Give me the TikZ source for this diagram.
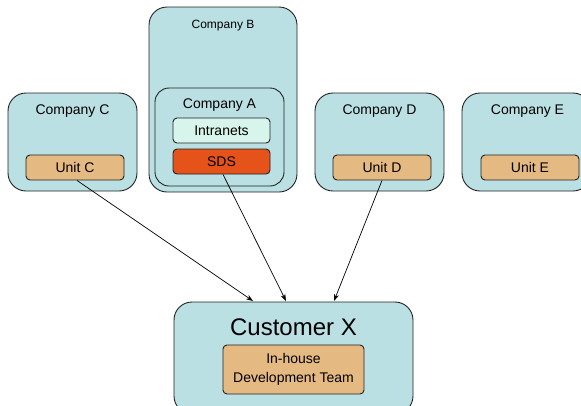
\documentclass[tikz,border=0pt]{standalone}
\usepackage{fontspec}
\setmainfont{Liberation Sans}
\usetikzlibrary{arrows.meta,calc}
\definecolor{orgfill}{HTML}{BBE0E3}
\definecolor{unitfill}{HTML}{E5B982}
\definecolor{intrafill}{HTML}{D8F5EC}
\definecolor{sdsfill}{HTML}{E5521A}
\definecolor{edge}{HTML}{222222}
\tikzset{
  org/.style={draw=edge, line width=0.9pt, fill=orgfill, rounded corners=18pt, inner sep=0pt},
  unitbox/.style={draw=edge, line width=0.9pt, fill=unitfill, rounded corners=4pt,
    minimum width=98pt, minimum height=25pt, inner sep=0pt, font=\fontsize{14}{16}\selectfont},
  orglabel/.style={font=\fontsize{14}{16}\selectfont, inner sep=0pt},
  link/.style={draw=black, line width=0.7pt, -{Stealth[length=7pt,width=5pt]}}
}
\begin{document}
\begin{tikzpicture}[x=1pt,y=-1pt]
\useasboundingbox (0,0) rectangle (581,405);

% Company C
\node[org, minimum width=129pt, minimum height=98pt] (cc) at (72.5,142) {};
\node[orglabel] (cclbl) at (72.5,111) {Company C};
\node[unitbox] (unitc) at (75,167.5) {Unit C};

% Company B containing Company A
\node[org, minimum width=148pt, minimum height=185pt] (cb) at (223,99.5) {};
\node[orglabel, font=\fontsize{12}{14}\selectfont] (cblbl) at (223,26) {Company B};
\node[org, rounded corners=14pt, minimum width=129pt, minimum height=98pt] (ca) at (219.5,137) {};
\node[orglabel] (calbl) at (219.5,105) {Company A};
\node[unitbox, fill=intrafill, minimum width=97pt] (intra) at (221.5,130.5) {Intranets};
\node[unitbox, fill=sdsfill, minimum width=97pt] (sds) at (221.5,161.5) {SDS};

% Company D
\node[org, minimum width=129pt, minimum height=98pt] (cd) at (379.5,142) {};
\node[orglabel] (cdlbl) at (379.5,111) {Company D};
\node[unitbox] (unitd) at (382,167.5) {Unit D};

% Company E
\node[org, minimum width=129pt, minimum height=98pt] (ce) at (526.5,142) {};
\node[orglabel] (celbl) at (527.5,111) {Company E};
\node[unitbox] (unite) at (530,167.5) {Unit E};

% Customer X
\node[org, minimum width=239pt, minimum height=112pt] (cust) at (293.5,358) {};
\node[orglabel, font=\fontsize{24}{28}\selectfont] (custlbl) at (293.5,327) {Customer X};
\node[unitbox, minimum width=141pt, minimum height=49pt, align=center,
  font=\fontsize{14}{19}\selectfont] (team) at (293.5,369.5) {In-house\\Development Team};

% Connectors
\coordinate (inc) at (253,301);
\coordinate (ina) at (286,301);
\coordinate (ind) at (334,301);
\draw[link] ($(unitc.south)+(2,0)$) -- (inc);
\draw[link] ($(sds.south)+(1.5,0)$) -- (ina);
\draw[link] (unitd.south) -- (ind);
\end{tikzpicture}
\end{document}
